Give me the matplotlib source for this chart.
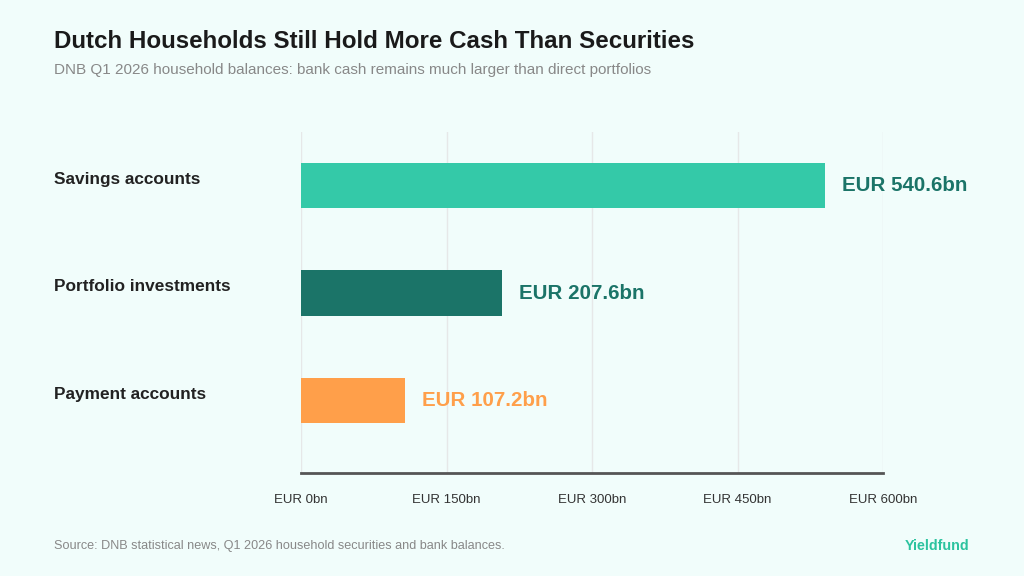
import matplotlib
matplotlib.use("Agg")
import matplotlib.pyplot as plt
from matplotlib.transforms import blended_transform_factory

categories = ["Savings accounts", "Portfolio investments", "Payment accounts"]
values = [540.6, 207.6, 107.2]
value_labels = ["EUR 540.6bn", "EUR 207.6bn", "EUR 107.2bn"]
tick_values = [0, 150, 300, 450, 600]
tick_labels = ["EUR 0bn", "EUR 150bn", "EUR 300bn", "EUR 450bn", "EUR 600bn"]

bar_colors = ["#34C9A8", "#1B7468", "#FF9F4A"]
label_colors = ["#1B7468", "#1B7468", "#FF9F4A"]
bg = "#F1FDFB"

plt.rcParams["font.family"] = ["Liberation Sans", "DejaVu Sans"]

fig = plt.figure(figsize=(10.24, 5.76), dpi=100, facecolor=bg)
W, H = 1024, 576
ax_left, ax_right, ax_top, ax_bottom = 301, 883, 132, 473
ax = fig.add_axes([ax_left / W, 1 - ax_bottom / H, (ax_right - ax_left) / W, (ax_bottom - ax_top) / H])
ax.set_facecolor(bg)

y = list(range(len(categories)))
ax.barh(y, values, height=0.42, color=bar_colors, zorder=3)
ax.set_xlim(0, 600)
ax.set_ylim(2.674, -0.498)

ax.set_xticks(tick_values)
ax.set_xticklabels(tick_labels, fontsize=9.5, color="#333333")
ax.tick_params(axis="x", length=0, pad=15)
ax.set_yticks([])
ax.grid(axis="x", color="#E6E8E8", linewidth=1, zorder=0)
for s in ["top", "right", "left"]:
    ax.spines[s].set_visible(False)
ax.spines["bottom"].set_color("#555555")
ax.spines["bottom"].set_linewidth(2)

for yi, v, lab, c in zip(y, values, value_labels, label_colors):
    ax.text(v + 17.5, yi, lab, va="center", ha="left", fontsize=14.8, fontweight="bold", color=c)

tr = blended_transform_factory(fig.transFigure, ax.transData)
for yi, cat in zip(y, categories):
    ax.text(54 / W, yi - 0.06, cat, transform=tr, va="center", ha="left",
            fontsize=12.4, fontweight="bold", color="#222222")

fig.text(54 / W, 1 - 41 / H, "Dutch Households Still Hold More Cash Than Securities",
         fontsize=17.4, fontweight="bold", color="#1a1a1a", va="center", ha="left")
fig.text(54 / W, 1 - 70 / H, "DNB Q1 2026 household balances: bank cash remains much larger than direct portfolios",
         fontsize=11, color="#888888", va="center", ha="left")
fig.text(54 / W, 1 - 546 / H, "Source: DNB statistical news, Q1 2026 household securities and bank balances.",
         fontsize=9.1, color="#888888", va="center", ha="left")
fig.text(969 / W, 1 - 546 / H, "Yieldfund", fontsize=10.3, fontweight="bold", color="#2CC39F",
         va="center", ha="right")

fig.savefig("out.png", dpi=100, facecolor=bg)
